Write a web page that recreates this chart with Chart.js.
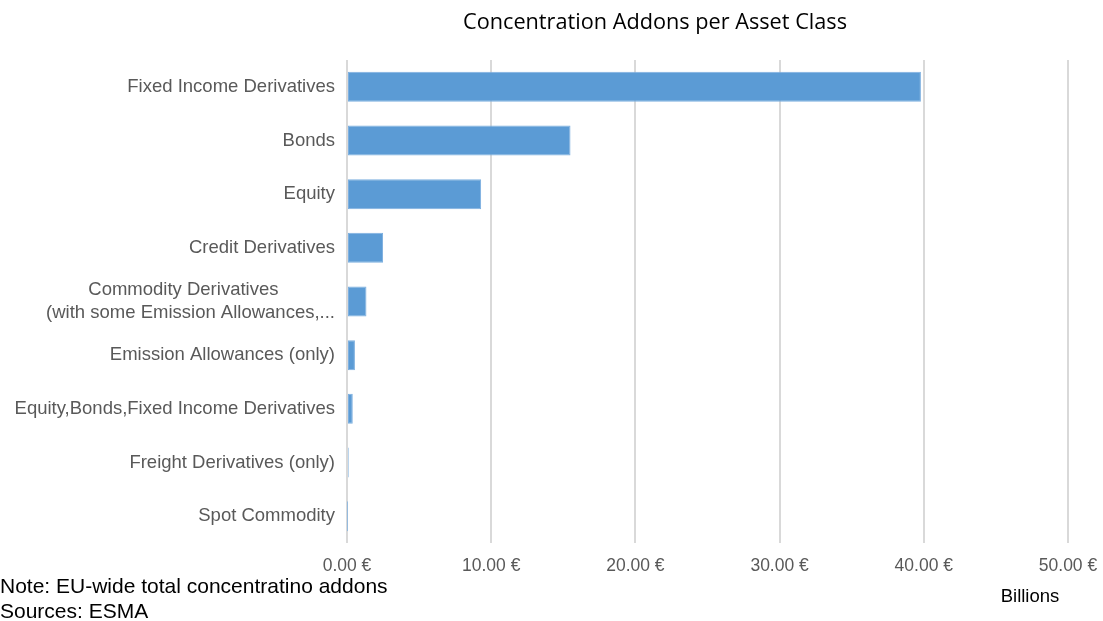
<!DOCTYPE html>
<html>
<head>
<meta charset="utf-8">
<script src="https://cdn.jsdelivr.net/npm/chart.js@4/dist/chart.umd.min.js"></script>
<style>
  html, body { margin: 0; padding: 0; background: #fff; }
  #wrap { width: 1103px; height: 621px; position: relative; }
</style>
</head>
<body>
<div id="wrap"><canvas id="addons"></canvas></div>
<script>
// Asset classes (top to bottom)
const assetClasses = [
    'Fixed Income Derivatives',
    'Bonds',
    'Equity',
    'Credit Derivatives',
    ['Commodity Derivatives           ', '(with some Emission Allowances,...'],
    'Emission Allowances (only)',
    'Equity,Bonds,Fixed Income Derivatives',
    'Freight Derivatives (only)',
    'Spot Commodity'
];
// Concentration addons, billions of euro
const addons = [39.8, 15.5, 9.3, 2.5, 1.35, 0.55, 0.4, 0.12, 0.01];
// x axis ticks
const tickMin = 0;
const tickMax = 50;
const tickStep = 10;

const titleText = 'Concentration Addons per Asset Class';
const noteLines = ['Note: EU-wide total concentratino addons', 'Sources: ESMA'];
const unitText = 'Billions';

const baseFont = '"Liberation Sans", Arial, sans-serif';

// Title, note and unit drawn on the canvas
const extraText = {
    id: 'extraText',
    afterDraw(chart) {
        const ctx = chart.ctx;
        ctx.save();
        ctx.fillStyle = '#000';
        ctx.textBaseline = 'middle';
        ctx.font = '21.7px "Open Sans", sans-serif';
        ctx.textAlign = 'center';
        ctx.fillText(titleText, 655, 23);
        ctx.font = '21px ' + baseFont;
        ctx.textAlign = 'left';
        ctx.fillText(noteLines[0], 0, 587);
        ctx.fillText(noteLines[1], 0, 612);
        ctx.font = '18.5px ' + baseFont;
        ctx.textAlign = 'center';
        ctx.fillText(unitText, 1030, 597);
        ctx.restore();
    }
};

const canvas = document.getElementById('addons');
new Chart(canvas, {
    type: 'bar',
    data: {
        labels: assetClasses,
        datasets: [{
            data: addons,
            backgroundColor: '#5b9bd5',
            borderColor: '#7dafdf',
            borderWidth: 1,
            borderSkipped: false,
            categoryPercentage: 1,
            barPercentage: 0.56
        }]
    },
    options: {
        indexAxis: 'y',
        responsive: true,
        maintainAspectRatio: false,
        animation: false,
        layout: { padding: { top: 60, right: 35, left: 0, bottom: 0 } },
        plugins: {
            legend: { display: false },
            tooltip: { enabled: false }
        },
        scales: {
            x: {
                min: tickMin,
                max: tickMax,
                ticks: {
                    stepSize: tickStep,
                    color: '#595959',
                    font: { family: baseFont, size: 17.5 },
                    padding: 13,
                    callback: v => v.toFixed(2) + ' €'
                },
                grid: { color: '#d9d9d9', lineWidth: 2, drawTicks: false },
                border: { display: false },
                afterFit(scale) {
                    scale.height = 78;
                    scale.paddingLeft = 0;
                    scale.paddingRight = 0;
                }
            },
            y: {
                ticks: {
                    color: '#595959',
                    font: { family: baseFont, size: 18.5 },
                    padding: 4
                },
                grid: { display: false },
                border: { display: false },
                afterFit(scale) { scale.width = 347; }
            }
        }
    },
    plugins: [extraText]
});
</script>
</body>
</html>
